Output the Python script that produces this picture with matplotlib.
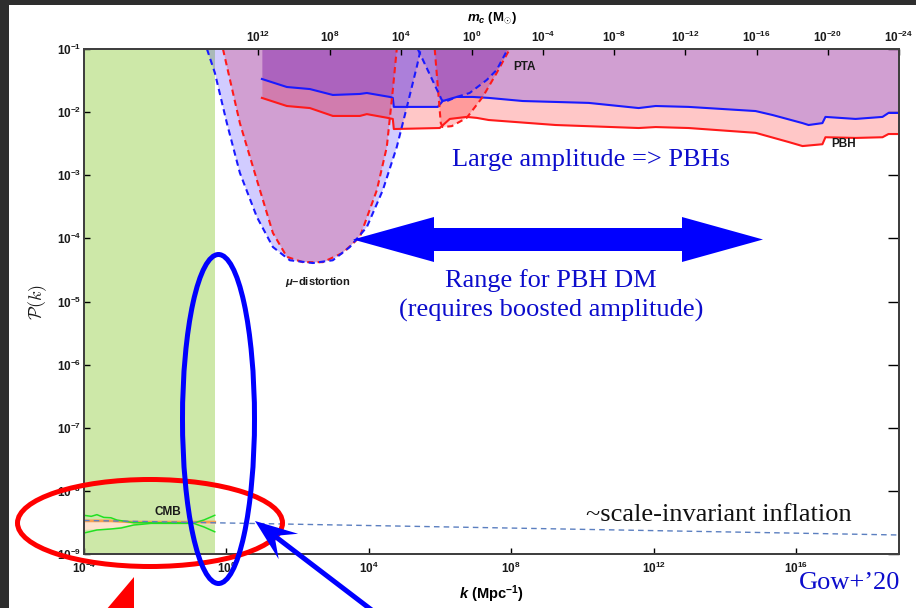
import numpy as np
import matplotlib
matplotlib.use('Agg')
import matplotlib.pyplot as plt
from matplotlib.patches import Ellipse, Polygon, Rectangle, FancyArrow
from matplotlib.ticker import NullLocator

plt.rcParams['font.family'] = 'Liberation Sans'
plt.rcParams['font.weight'] = 'bold'
plt.rcParams['axes.labelweight'] = 'bold'
plt.rcParams['mathtext.fontset'] = 'custom'
plt.rcParams['mathtext.rm'] = 'Liberation Sans:bold'
plt.rcParams['mathtext.it'] = 'Liberation Sans:italic:bold'
plt.rcParams['mathtext.bf'] = 'Liberation Sans:bold'
plt.rcParams['mathtext.default'] = 'bf'

# axis ranges (k in Mpc^-1)
k_min, k_max = 1e-4, 7.8e18
P_min, P_max = 1e-9, 1e-1
log_m_at_k1 = 13.8  # m_c = 10**13.8 * k**-2  (M_sun)

k_ticks = [1e-4, 1e0, 1e4, 1e8, 1e12, 1e16]
k_tick_labels = ['$10^{-4}$', '$10^{0}$', '$10^{4}$', '$10^{8}$', '$10^{12}$', '$10^{16}$']
m_ticks = [1e12, 1e8, 1e4, 1e0, 1e-4, 1e-8, 1e-12, 1e-16, 1e-20, 1e-24]
m_tick_labels = ['$10^{12}$', '$10^{8}$', '$10^{4}$', '$10^{0}$', '$10^{-4}$', '$10^{-8}$',
                 '$10^{-12}$', '$10^{-16}$', '$10^{-20}$', '$10^{-24}$']
P_ticks = [1e-9, 1e-8, 1e-7, 1e-6, 1e-5, 1e-4, 1e-3, 1e-2, 1e-1]
P_tick_labels = ['$10^{-9}$', '$10^{-8}$', '$10^{-7}$', '$10^{-6}$', '$10^{-5}$',
                 '$10^{-4}$', '$10^{-3}$', '$10^{-2}$', '$10^{-1}$']

# CMB window
cmb_k = [1e-4, 0.47]
cmb_hi_k = [1e-4, 1.6e-4, 2.3e-4, 3.6e-4, 5.7e-4, 8.4e-4, 1.4e-3, 2.5e-3, 0.122, 0.234, 0.47]
cmb_hi_P = [4.1e-9, 3.95e-9, 4.2e-9, 3.8e-9, 3.75e-9, 3.45e-9, 3.3e-9, 3.13e-9, 3.10e-9, 3.46e-9, 4.1e-9]
cmb_lo_k = [1e-4, 2.3e-4, 5.7e-4, 1.1e-3, 2.5e-3, 7.6e-3, 0.122, 0.234, 0.47]
cmb_lo_P = [2.15e-9, 2.40e-9, 2.49e-9, 2.58e-9, 2.88e-9, 3.05e-9, 3.05e-9, 2.68e-9, 2.25e-9]
cmb_band_k = [1e-4, 5.7e-4, 2.5e-3, 0.47]
cmb_band_hi = [3.35e-9, 3.35e-9, 3.2e-9, 3.2e-9]
cmb_band_lo = [2.45e-9, 2.6e-9, 3.0e-9, 3.0e-9]

# nearly scale-invariant spectrum
infl_k = [1e-4, 7.8e18]
infl_P = [3.4e-9, 2.0e-9]

# mu-distortion bounds
mu_blue_k = [0.284, 0.475, 1.03, 2.39, 7.18, 20.2, 60.5, 268, 975, 2930, 8790,
             2.47e4, 6.1e4, 1.17e5, 2.22e5, 2.88e5]
mu_blue_P = [0.1, 4.17e-2, 6.7e-3, 1.09e-3, 2.18e-4, 7.3e-5, 4.5e-5, 4.07e-5, 4.5e-5,
             7.3e-5, 1.51e-4, 5.8e-4, 2.8e-3, 1.2e-2, 5.2e-2, 0.1]
mu_red_k = [0.80, 2.39, 7.18, 20.2, 49.9, 140, 512, 1860, 5590, 1.68e4, 3.2e4, 4.72e4, 6.1e4]
mu_red_P = [0.1, 6.7e-3, 8.4e-4, 1.22e-4, 5.1e-5, 4.2e-5, 4.2e-5, 5.9e-5, 1.05e-4,
            5.8e-4, 2.8e-3, 2.24e-2, 0.1]

# PTA bounds
pta_blue_k = [2.37e5, 1.12e6, 1.36e6, 2.95e6, 6.8e6, 2.05e7, 3.9e7, 8.0e7]
pta_blue_P = [0.1, 1.56e-2, 1.45e-2, 1.74e-2, 2.01e-2, 3.23e-2, 4.65e-2, 0.1]
pta_red_k = [7.1e5, 1.05e6, 1.19e6, 2.14e6, 5.6e6, 1.58e7, 3.9e7, 9.1e7]
pta_red_P = [0.1, 6.7e-3, 5.8e-3, 6.0e-3, 8.1e-3, 1.74e-2, 4.17e-2, 0.1]

# PBH abundance bounds
pbh_blue_k = [9.93, 49.9, 221, 975, 5590, 8790, 3.89e4, 4.72e4, 5.04e4, 8.65e5, 1.19e6,
              2.95e6, 8.3e6, 2.33e7, 2.1e8, 1.5e10, 3.79e11, 1.14e12, 9.6e12, 7.3e14,
              2.19e15, 1.52e16, 2.25e16, 5.5e16, 6.7e16, 4.7e17, 2.68e18, 3.95e18, 7.8e18]
pbh_blue_P = [0.0335, 0.025, 0.0232, 0.0187, 0.0194, 0.0201, 0.0174, 0.0168, 0.0121, 0.0121,
              0.015, 0.0174, 0.0174, 0.0168, 0.015, 0.014, 0.0116, 0.0125, 0.0121, 0.0104,
              0.009, 0.0067, 0.00625, 0.0067, 0.0084, 0.0078, 0.0084, 0.0097, 0.0097]
pbh_red_k = [9.93, 49.9, 221, 975, 5590, 8790, 3.42e4, 4.72e4, 5.04e4, 9.8e5, 1.88e6,
             5.6e6, 1.08e7, 2.33e7, 1.77e9, 3.79e11, 1.14e12, 9.6e12, 7.3e14, 6.2e15,
             1.52e16, 5.5e16, 6.7e16, 4.7e17, 2.68e18, 3.95e18, 7.8e18]
pbh_red_P = [0.0168, 0.0125, 0.0116, 0.0087, 0.0087, 0.0093, 0.0081, 0.0078, 0.0054, 0.0056,
             0.0078, 0.0084, 0.0081, 0.0075, 0.00625, 0.0056, 0.0058, 0.0056, 0.0047, 0.00336,
             0.0029, 0.0031, 0.0040, 0.0039, 0.0040, 0.0045, 0.0045]

red_fill = (1, 0, 0, 0.22)
blue_fill = (0.1, 0, 1, 0.20)
red_line = '#ff1a1a'
blue_line = '#1a1aff'
dash = (0, (3, 2))

fig = plt.figure(figsize=(9.16, 6.08), dpi=100)
fig.patch.set_facecolor('white')
ax = fig.add_axes([84 / 916, 1 - 554 / 608, 815 / 916, 505 / 608])
ax.set_xscale('log')
ax.set_yscale('log')
ax.set_xlim(k_min, k_max)
ax.set_ylim(P_min, P_max)

ax.axvspan(cmb_k[0], cmb_k[1], color='#cde8a8', lw=0, zorder=0)

# shaded regions: reds first, blues on top
ax.fill_between(pbh_red_k, pbh_red_P, P_max, color=red_fill, lw=0)
ax.fill(mu_red_k, mu_red_P, color=red_fill, lw=0)
ax.fill(pta_red_k, pta_red_P, color=red_fill, lw=0)
ax.fill_between(pbh_blue_k, pbh_blue_P, P_max, color=blue_fill, lw=0)
ax.fill(mu_blue_k, mu_blue_P, color=blue_fill, lw=0)
ax.fill(pta_blue_k, pta_blue_P, color=blue_fill, lw=0)

ax.plot(pbh_red_k, pbh_red_P, color=red_line, lw=1.5)
ax.plot(pbh_blue_k, pbh_blue_P, color=blue_line, lw=1.5)
ax.plot(mu_red_k, mu_red_P, color=red_line, lw=1.5, ls=dash)
ax.plot(mu_blue_k, mu_blue_P, color=blue_line, lw=1.5, ls=dash)
ax.plot(pta_red_k, pta_red_P, color=red_line, lw=1.5, ls=dash)
ax.plot(pta_blue_k, pta_blue_P, color=blue_line, lw=1.5, ls=dash)

# CMB constraints
ax.fill_between(cmb_band_k, cmb_band_lo, cmb_band_hi, color='#fde2cc', lw=0)
ax.plot(cmb_band_k, cmb_band_hi, color='#f7a050', lw=2)
ax.plot(cmb_hi_k, cmb_hi_P, color='#22e022', lw=1.1)
ax.plot(cmb_lo_k, cmb_lo_P, color='#22e022', lw=1.1)
ax.plot(infl_k, infl_P, color='#5b7fc0', lw=1, ls=(0, (4, 3)))

ax.text(2.2e-2, 4.7e-9, 'CMB', fontsize=8.5, ha='center', va='center', color='#1a1a1a')
ax.text(380, 2.0e-5, r'$\mathit{\mu}$–distortion', fontsize=8, ha='center', va='center',
        color='#1a1a1a')
ax.text(2.4e8, 0.052, 'PTA', fontsize=8.5, ha='center', va='center', color='#1a1a1a')
ax.text(2.2e17, 3.1e-3, 'PBH', fontsize=8.5, ha='center', va='center', color='#1a1a1a')

for s in ax.spines.values():
    s.set_linewidth(1.4)
    s.set_color('#404040')

ax.set_xticks(k_ticks)
ax.set_xticklabels(k_tick_labels)
ax.set_yticks(P_ticks)
ax.set_yticklabels(P_tick_labels)
ax.xaxis.set_minor_locator(NullLocator())
ax.yaxis.set_minor_locator(NullLocator())
ax.tick_params(which='major', direction='in', length=4, width=1, labelsize=8.5,
               labelcolor='#1a1a1a', top=False, right=False)
ax.tick_params(axis='x', pad=5)
ax.tick_params(axis='y', pad=2)

right = ax.secondary_yaxis('right')
right.set_yticks(P_ticks)
right.yaxis.set_minor_locator(NullLocator())
right.tick_params(direction='in', length=8, width=1, labelright=False)
right.spines['right'].set_linewidth(1.4)

# horizon mass scale along the top
top = ax.twiny()
top.set_xscale('log')
top.set_xlim(10 ** (log_m_at_k1 - 2 * np.log10(k_min)), 10 ** (log_m_at_k1 - 2 * np.log10(k_max)))
top.set_xticks(m_ticks)
top.set_xticklabels(m_tick_labels)
top.xaxis.set_minor_locator(NullLocator())
top.tick_params(direction='in', length=4, width=1, labelsize=8.5, labelcolor='#1a1a1a', pad=3)
for s in top.spines.values():
    s.set_linewidth(1.4)
    s.set_color('#404040')
top.set_xlabel(r'$\mathit{m_c}$ (M$_{\odot}$)', fontsize=9.5, labelpad=6)

ax.set_xlabel(r'$\mathit{k}$ (Mpc$^{-1}$)', fontsize=10.5, labelpad=5)

# slide overlay in pixel units
ov = fig.add_axes([0, 0, 1, 1])
ov.set_xlim(0, 916)
ov.set_ylim(608, 0)
ov.axis('off')
ov.patch.set_visible(False)

ov.add_patch(Rectangle((0, 0), 9, 608, color='#2e2e2e', lw=0))
ov.add_patch(Rectangle((0, 0), 916, 5, color='#2e2e2e', lw=0))

ov.text(38, 302, r'$\mathcal{P}(\mathit{k})$', fontsize=13, rotation=90, ha='center',
        va='center', math_fontfamily='cm', color='#1a1a1a')

serif = 'Liberation Serif'
blue_txt = '#0c0ccc'
ov.text(591, 160, 'Large amplitude => PBHs', family=serif, weight='normal', fontsize=19,
        color=blue_txt, ha='center', va='center')
ov.text(551, 281, 'Range for PBH DM', family=serif, weight='normal', fontsize=19,
        color=blue_txt, ha='center', va='center')
ov.text(551, 310, '(requires boosted amplitude)', family=serif, weight='normal', fontsize=19,
        color=blue_txt, ha='center', va='center')
ov.text(719, 515, '~scale-invariant inflation', family=serif, weight='normal', fontsize=19,
        color='#111111', ha='center', va='center')
ov.text(850, 583, 'Gow+’20', family=serif, weight='normal', fontsize=19,
        color=blue_txt, ha='center', va='center')

# double-headed arrow marking the PBH dark matter range
for dx in (-205, 205):
    ov.add_patch(FancyArrow(558, 239.5, dx, 0, width=23, head_width=45, head_length=81,
                            length_includes_head=True, color='#0000ff', lw=0))

ov.add_patch(Ellipse((150, 523), 265, 87, fill=False, ec='#ff0000', lw=3.6))
ov.add_patch(Ellipse((218.5, 419), 72, 329, fill=False, ec='#0000ff', lw=3.6))

ov.add_patch(FancyArrow(390, 624, -135, -103, width=5, head_width=32, head_length=42,
                        length_includes_head=True, overhang=0.35, color='#0000ff', lw=0))
ov.add_patch(Polygon([(134, 577), (134, 640), (95, 623)], closed=True, color='#ff0000', lw=0))

fig.savefig('out.png', dpi=100)
